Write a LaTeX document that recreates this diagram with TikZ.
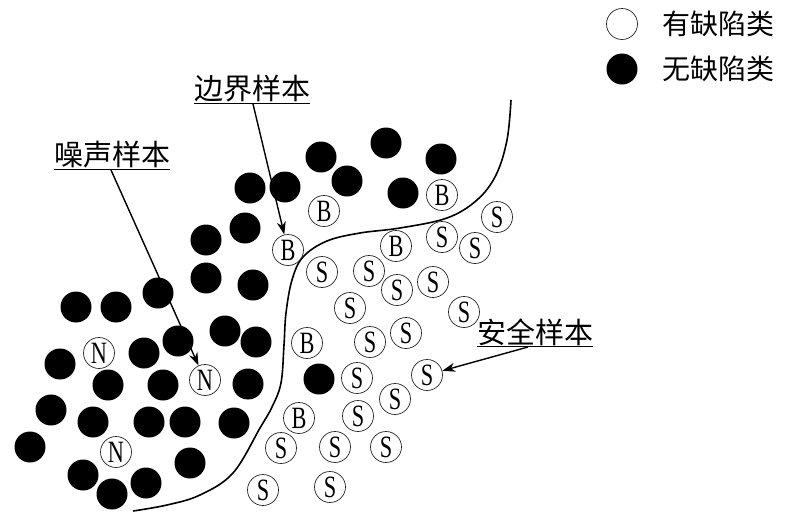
\documentclass[tikz,border=0pt]{standalone}
\usepackage{fontspec}
\setmainfont{Liberation Serif}
\newfontfamily\cjk{Noto Sans CJK SC}
\usetikzlibrary{arrows.meta}
\newcommand\ltr[1]{\scalebox{0.72}[1]{#1}}
\begin{document}
\begin{tikzpicture}[x=1pt,y=-1pt,
  blk/.style={circle,fill=black,minimum size=31pt,inner sep=0pt},
  opn/.style={circle,draw=black!85,line width=0.7pt,minimum size=31pt,inner sep=0pt,
    font=\fontsize{31}{31}\selectfont},
  lbl/.style={inner sep=0pt,font=\cjk\fontsize{29}{29}\selectfont},
  leg/.style={inner sep=0pt,font=\cjk\fontsize{28}{28}\selectfont,anchor=west},
  arr/.style={line width=1.4pt,-{Stealth[length=13pt,width=9pt]}},
  uline/.style={line width=1pt}]
\useasboundingbox (0,0) rectangle (787,512);
% legend
\node[opn] (lo) at (622,24) {};
\node[blk] (lb) at (622,69) {};
\node[leg] (lot) at (662,24) {有缺陷类};
\node[leg] (lbt) at (662,69) {无缺陷类};
% boundary curve
\draw[line width=1.6pt] plot[smooth,tension=0.6] coordinates {(511,100) (507,140) (496,175) (477,200) (447,218) (400,228) (360,233) (327,241) (303,257) (292,280) (286,313) (284,345) (281,383) (272,407) (260,428) (233,473) (200,495) (167,505) (133,511)};
% black circles
\foreach \p [count=\i] in {(321,157),(386,143),(441,159),(347,181),(403,193),(250,188),(285,187),
  (245,228),(206,240),(206,278),(253,285),(158,293),(116,307),(76,307),(225,331),(256,342),
  (178,341),(144,353),(60,364),(108,385),(163,385),(248,384),(51,410),(93,422),(149,422),
  (185,422),(234,423),(30,447),(190,463),(83,475),(146,483),(112,494),(319,379)}
  \node[blk] (k\i) at \p {};
% border samples
\foreach \p [count=\i] in {(324,211),(442,195),(288,250),(396,246),(307,343),(299,418)}
  \node[opn] (b\i) at \p {\ltr{B}};
% noise samples
\foreach \p [count=\i] in {(99,353),(205,380),(116,452)}
  \node[opn] (n\i) at \p {\ltr{N}};
% safe samples
\foreach \p [count=\i] in {(497,217),(442,237),(475,248),(322,272),(369,271),(397,290),(433,282),
  (350,308),(464,312),(406,333),(370,342),(357,378),(427,375),(395,399),(358,416),(281,448),
  (335,447),(386,447),(330,487),(263,490)}
  \node[opn] (s\i) at \p {\ltr{S}};
% labels
\node[lbl] (noise) at (112,155) {噪声样本};
\node[lbl] (border) at (252,89) {边界样本};
\node[lbl] (safe) at (535,332) {安全样本};
\draw[uline] (noise.west |- 0,169) -- (noise.east |- 0,169);
\draw[uline] (border.west |- 0,103) -- (border.east |- 0,103);
\draw[uline] (safe.west |- 0,346) -- (safe.east |- 0,346);
\coordinate (na) at (111,170);
\coordinate (ba) at (253,104);
\coordinate (sa) at (528,347);
\draw[arr] (na) -- (n2);
\draw[arr] (ba) -- (b3);
\draw[arr] (sa) -- (s13);
\end{tikzpicture}
\end{document}
